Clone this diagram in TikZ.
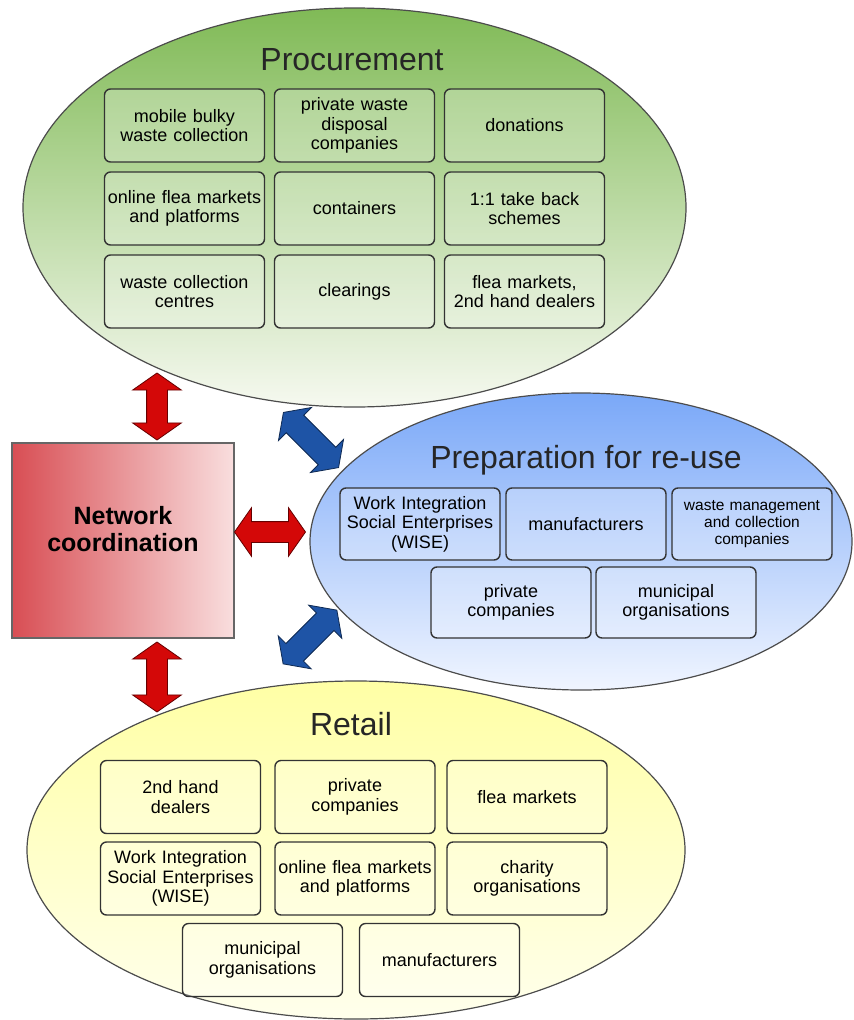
\documentclass[tikz,border=0pt]{standalone}
\usepackage{fontspec}
\setmainfont{Liberation Sans}
\usetikzlibrary{shapes.geometric,shapes.arrows}
\definecolor{procgreen}{RGB}{128,186,86}
\definecolor{procpale}{RGB}{246,249,240}
\definecolor{prepblue}{RGB}{122,168,248}
\definecolor{preppale}{RGB}{240,245,255}
\definecolor{retyellow}{RGB}{255,255,165}
\definecolor{retpale}{RGB}{255,255,236}
\definecolor{netdark}{RGB}{216,78,84}
\definecolor{netpale}{RGB}{249,222,222}
\definecolor{arrred}{RGB}{212,8,8}
\definecolor{arrblue}{RGB}{30,84,166}
\begin{document}
\begin{tikzpicture}[x=1pt, y=-1pt,
    zone/.style={ellipse, draw=black!70, line width=1.2pt, inner sep=0pt},
    item/.style={draw=black!80, line width=1.4pt, rounded corners=6pt,
      fill=white, fill opacity=0.25, text opacity=1, text width=154pt,
      inner sep=3pt, minimum height=73pt, align=center,
      font=\fontsize{18}{19.5}\selectfont},
    title/.style={anchor=base, text=black!85, font=\fontsize{32}{36}\selectfont},
    redarrow/.style={double arrow, draw=red!40!black, fill=arrred, line width=0.8pt,
      inner sep=10pt, double arrow head extend=14pt, double arrow tip angle=110,
      minimum height=#1},
    bluearrow/.style={double arrow, draw=arrblue!50!black, fill=arrblue, line width=0.8pt,
      inner sep=12pt, double arrow head extend=11pt, double arrow tip angle=110,
      minimum height=#1}]
    \useasboundingbox (0,0) rectangle (854,1020);
    % the three fields
    \node[zone, minimum width=663pt, minimum height=399pt, top color=procgreen,
      bottom color=procpale] (proc) at (354.5,207.5) {};
    \node[zone, minimum width=542pt, minimum height=297pt, top color=prepblue,
      bottom color=preppale] (prep) at (581,541.5) {};
    \node[zone, minimum width=658pt, minimum height=338pt, top color=retyellow,
      bottom color=retpale] (retail) at (356,850) {};
    \node[title] (procT) at (352,70) {Procurement};
    \node[title] (prepT) at (586,468) {Preparation for re-use};
    \node[title] (retailT) at (351,735) {Retail};
    % procurement
    \node[item] (pr1) at (184.5,125.5) {mobile bulky\\waste collection};
    \node[item] (pr2) at (354.5,125.5) {private waste\\disposal\\companies};
    \node[item] (pr3) at (524.5,125.5) {donations};
    \node[item] (pr4) at (184.5,208.5) {online flea markets\\and platforms};
    \node[item] (pr5) at (354.5,208.5) {containers};
    \node[item] (pr6) at (524.5,208.5) {1:1 take back\\schemes};
    \node[item] (pr7) at (184.5,291.5) {waste collection\\centres};
    \node[item] (pr8) at (354.5,291.5) {clearings};
    \node[item] (pr9) at (524.5,291.5) {flea markets,\\2nd hand dealers};
    % preparation for re-use
    \node[item, minimum height=72pt] (re1) at (420,524) {Work Integration\\Social Enterprises\\(WISE)};
    \node[item, minimum height=72pt] (re2) at (586,524) {manufacturers};
    \node[item, minimum height=72pt, font=\fontsize{15.5}{17}\selectfont] (re3) at (752,524)
      {waste management\\and collection\\companies};
    \node[item, minimum height=71pt] (re4) at (511,602.5) {private\\companies};
    \node[item, minimum height=71pt] (re5) at (676,602.5) {municipal\\organisations};
    % retail
    \node[item] (rt1) at (180.5,797) {2nd hand\\dealers};
    \node[item] (rt2) at (355,797) {private\\companies};
    \node[item] (rt3) at (527,797) {flea markets};
    \node[item] (rt4) at (180.5,878.5) {Work Integration\\Social Enterprises\\(WISE)};
    \node[item] (rt5) at (355,878.5) {online flea markets\\and platforms};
    \node[item] (rt6) at (527,878.5) {charity\\organisations};
    \node[item] (rt7) at (262.5,960) {municipal\\organisations};
    \node[item] (rt8) at (439.5,960) {manufacturers};
    % coordination and the links
    \node[draw=black!60, line width=1.3pt, left color=netdark, right color=netpale,
      minimum width=222pt, minimum height=195pt, align=center, text depth=24pt,
      font=\bfseries\fontsize{25}{27}\selectfont] (netco) at (123,540.5)
      {Network\\coordination};
    \node[redarrow=67pt, rotate=90] (arrNP) at (157,406.5) {};
    \node[redarrow=70pt, rotate=90] (arrNR) at (157,677) {};
    \node[redarrow=71pt] (arrNE) at (270,532) {};
    \node[bluearrow=78pt, rotate=-45] (arrPE) at (311,440) {};
    \node[bluearrow=76pt, rotate=45] (arrRE) at (310,637) {};
\end{tikzpicture}
\end{document}
